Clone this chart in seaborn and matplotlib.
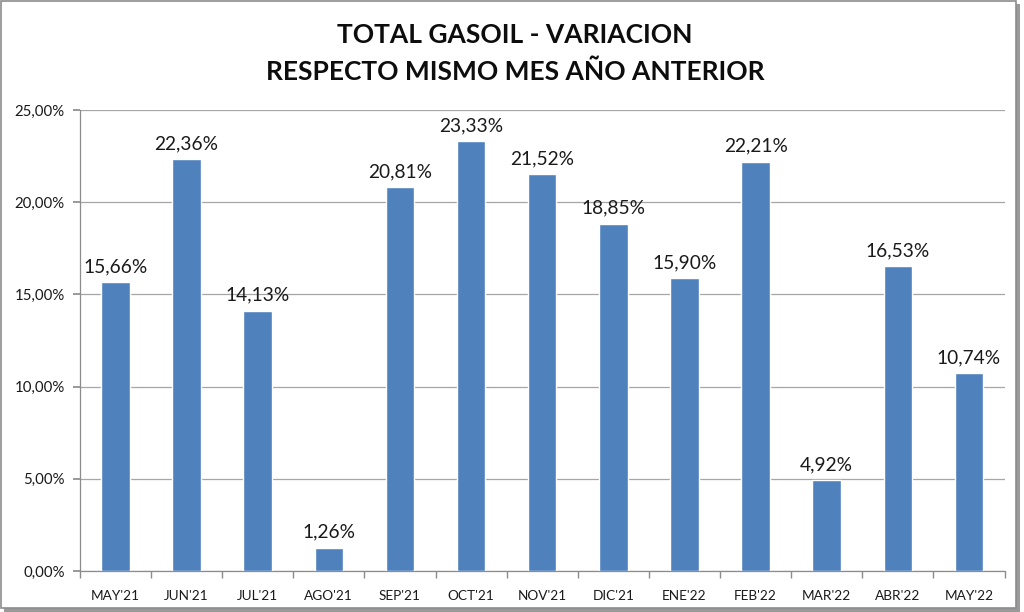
import matplotlib
matplotlib.use("Agg")
import matplotlib.pyplot as plt
import seaborn as sns
import pandas as pd
from matplotlib.patches import Rectangle
from matplotlib.ticker import FuncFormatter, FixedLocator

months = ["MAY'21", "JUN'21", "JUL'21", "AGO'21", "SEP'21", "OCT'21", "NOV'21",
          "DIC'21", "ENE'22", "FEB'22", "MAR'22", "ABR'22", "MAY'22"]
values = [15.66, 22.36, 14.13, 1.26, 20.81, 23.33, 21.52, 18.85, 15.90, 22.21, 4.92, 16.53, 10.74]
title = "TOTAL GASOIL - VARIACION\nRESPECTO MISMO MES AÑO ANTERIOR"

sns.set_theme(style="white")
plt.rcParams['font.family'] = ['Lato', 'DejaVu Sans']

df = pd.DataFrame({"mes": months, "var": values})

fig = plt.figure(figsize=(10.24, 6.12), dpi=100)
# frame with shadow
fig.patches.append(Rectangle((0.004, 0.0), 0.992, 0.994, transform=fig.transFigure,
                             facecolor="#9a9a9a", edgecolor="none", zorder=-3))
fig.patches.append(Rectangle((0.001, 0.006), 0.991, 0.992, transform=fig.transFigure,
                             facecolor="white", edgecolor="#8c8c8c", linewidth=1.2, zorder=-2))

ax = fig.add_axes([0.078, 0.067, 0.903, 0.753])
ax.set_facecolor("none")
sns.barplot(data=df, x="mes", y="var", color="#4F81BD", width=0.4, saturation=1, ax=ax, zorder=3)

ax.set_ylim(0, 25)
ax.set_xlim(-0.5, len(months) - 0.5)
ax.yaxis.set_major_locator(FixedLocator([0, 5, 10, 15, 20, 25]))
ax.yaxis.set_major_formatter(FuncFormatter(lambda v, p: f"{v:.2f}".replace(".", ",") + "%"))
ax.yaxis.grid(True, color="#a6a6a6", linewidth=0.9, zorder=0)
ax.set_axisbelow(True)
for s in ["top", "right"]:
    ax.spines[s].set_visible(False)
for s in ["left", "bottom"]:
    ax.spines[s].set_color("#8c8c8c")
    ax.spines[s].set_linewidth(0.9)

ax.set_xlabel("")
ax.set_ylabel("")
ax.tick_params(axis="y", which="major", left=True, length=5, color="#8c8c8c", labelsize=10.8, pad=6, labelcolor="#1a1a1a")
ax.tick_params(axis="x", which="major", bottom=False, labelsize=9.8, pad=8, labelcolor="#1a1a1a")
ax.set_xticks([i + 0.5 for i in range(-1, len(months))], minor=True)
ax.tick_params(axis="x", which="minor", bottom=True, length=5, color="#8c8c8c")

for c in ax.containers:
    ax.bar_label(c, labels=[f"{v:.2f}".replace(".", ",") + "%" for v in values],
                 padding=5, fontsize=13.8, color="#1a1a1a")

fig.text(0.503, 0.912, title, ha="center", va="center", fontsize=19, fontweight="bold",
         linespacing=1.6, color="#0d0d0d")

fig.savefig("out.png", dpi=100)
